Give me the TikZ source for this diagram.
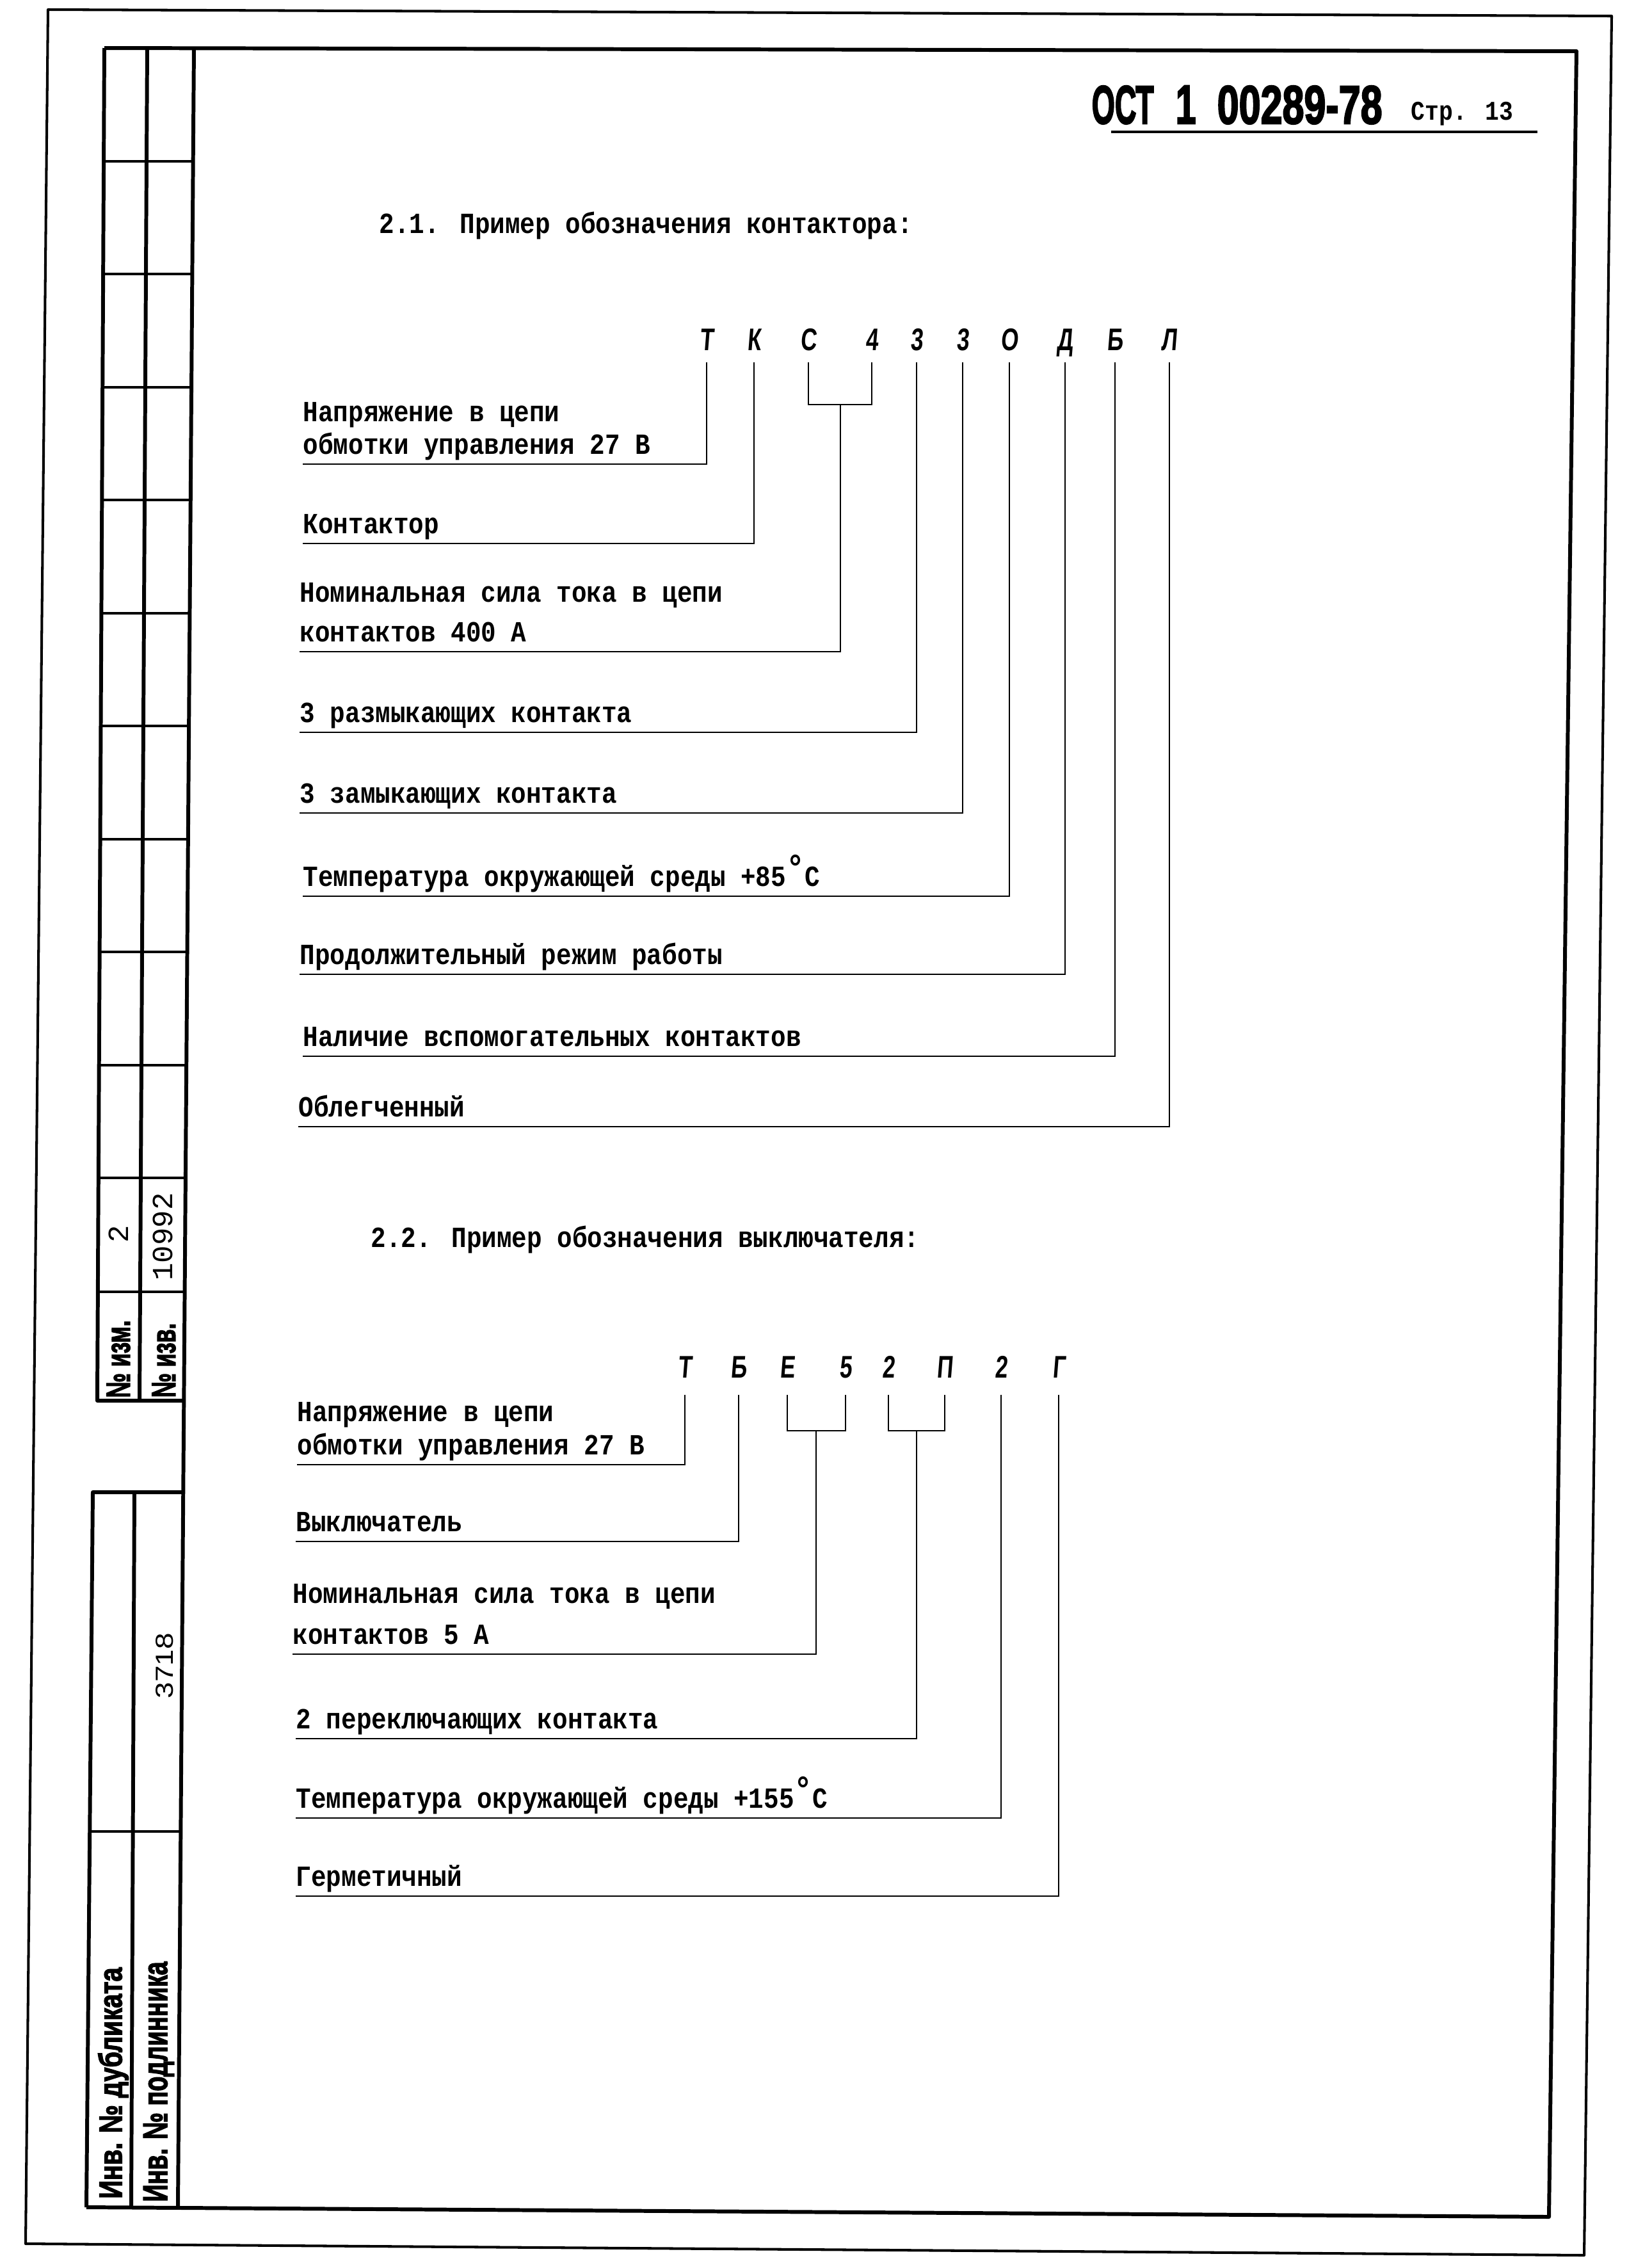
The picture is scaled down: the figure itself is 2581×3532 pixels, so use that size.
\documentclass[tikz,border=0pt]{standalone}
\usepackage{fontspec}
\usepackage{graphicx}
\setmainfont{Liberation Mono}
\newfontfamily\mashinfont[FakeStretch=0.86]{Liberation Mono}
\newfontfamily\stripmono{Liberation Mono}
\newfontfamily\gostfont[UprightFont={* Bold},FakeStretch=0.72,FakeSlant=0.08]{Liberation Sans}
\newfontfamily\headfont{Liberation Sans}
\newfontfamily\stripfont[UprightFont={* Bold},FakeBold=3]{Liberation Sans}
\usetikzlibrary{positioning}
\newcommand{\fitbox}[3]{\resizebox{#1}{#2}{#3}}
\newcommand{\mashin}{\mashinfont\bfseries\fontsize{13pt}{15pt}\selectfont}
\newcommand{\grad}{\raisebox{0.22em}{\fontsize{16pt}{16pt}\selectfont °}}
\tikzset{
  ramka/.style={line width=1.7pt, line join=round},
  ramkat/.style={line width=1.15pt, line join=round},
  setka/.style={line width=1.1pt},
  nadpis/.style={font=\mashin, inner sep=0pt, text depth=1.5mm, anchor=south west},
  stroka/.style={font=\mashin, inner sep=0pt, anchor=base west},
  bukva/.style={font={\gostfont\fontsize{13.9pt}{16pt}\selectfont}, inner xsep=0pt,
    inner ysep=1.8mm, text depth=0pt, anchor=base},
  bukvab/.style={bukva, inner ysep=2.6mm},
  vynoska/.style={line width=0.8pt},
  bokov/.style={rotate=90, inner sep=0pt}
}
\begin{document}
\begin{tikzpicture}[x=0.1mm, y=-0.1mm]
  \useasboundingbox (0,0) rectangle (2581,3532);
  \draw[ramkat] (75,15) -- (2518,25) -- (2475,3523) -- (40,3505) -- cycle;
  \draw[ramka] (163,75) -- (2463,80) -- (2420,3463) -- (135,3448);
  \draw[ramka] (303,75) -- (278,3448);
  \draw[ramka] (163,75) -- (152,2188) -- (287,2188);
  \draw[ramka] (230,75) -- (218,2188);
  \draw[setka] (162,252) -- (302,252);
  \draw[setka] (161,428) -- (300,428);
  \draw[setka] (160,605) -- (299,605);
  \draw[setka] (159,781) -- (298,781);
  \draw[setka] (158,958) -- (297,958);
  \draw[setka] (157,1134) -- (295,1134);
  \draw[setka] (157,1311) -- (294,1311);
  \draw[setka] (156,1487) -- (293,1487);
  \draw[setka] (155,1664) -- (291,1664);
  \draw[setka] (154,1840) -- (290,1840);
  \draw[setka] (153,2018) -- (289,2018);
  \draw[ramka] (286,2331) -- (145,2331) -- (135,3448);
  \draw[ramka] (210,2331) -- (205,3448);
  \draw[setka] (140,2861) -- (282,2861);

  \node[bokov, font=\stripmono\fontsize{13pt}{13pt}\selectfont] (izm) at (185,1928) {2};
  \node[bokov, font=\stripmono\fontsize{13pt}{13pt}\selectfont] (izv) at (254,1932) {10992};
  \node[bokov] (nizm) at (185,2123) {\stripfont\fitbox{12.1mm}{3.6mm}{№ изм.}};
  \node[bokov] (nizv) at (256,2125) {\stripfont\fitbox{11.6mm}{3.6mm}{№ изв.}};
  \node[bokov] (podl) at (257,2602) {\headfont\fitbox{10.2mm}{2.7mm}{3718}};
  \node[bokov] (dubl) at (177,3254) {\stripfont\fitbox{36.1mm}{3.7mm}{Инв. № дубликата}};
  \node[bokov] (podn) at (248,3252) {\stripfont\fitbox{37.5mm}{3.7mm}{Инв. № подлинника}};

  \node[anchor=base west, inner sep=0pt] (ost) at (1705,193)
    {\stripfont\fitbox{9.7mm}{5.9mm}{ОСТ}\hspace{3.4mm}\fitbox{3.2mm}{5.9mm}{1}\hspace{3.3mm}\fitbox{25.8mm}{5.9mm}{00289-78}};
  \node[anchor=base west, inner sep=0pt, font=\mashin\fontsize{12pt}{14pt}\selectfont] (str) at (2204,187) {Стр. 13};
  \draw[line width=1.3pt] (1736,206) -- (2402,206);

  \node[stroka] (zag1) at (592,364) {2.1. Пример обозначения контактора:};
  \node[bukva] (aT) at (1104,547) {Т};
  \node[bukva] (aK) at (1178,547) {К};
  \node[bukva] (aC) at (1263,547) {С};
  \node[bukva] (a4) at (1362,547) {4};
  \node[bukva] (a3r) at (1432,547) {3};
  \node[bukva] (a3z) at (1504,547) {3};
  \node[bukva] (aO) at (1577,547) {О};
  \node[bukva] (aD) at (1664,547) {Д};
  \node[bukva] (aB) at (1742,547) {Б};
  \node[bukva] (aL) at (1827,547) {Л};
  \node[stroka] (n1a) at (473,658) {Напряжение в цепи};
  \node[nadpis] (n1) at (473,725) {обмотки управления 27 В};
  \node[nadpis] (n2) at (473,849) {Контактор};
  \node[stroka] (n3a) at (468,940) {Номинальная сила тока в цепи};
  \node[nadpis] (n3) at (468,1018) {контактов 400 А};
  \node[nadpis] (n4) at (468,1144) {3 размыкающих контакта};
  \node[nadpis] (n5) at (468,1270) {3 замыкающих контакта};
  \node[nadpis] (n6) at (473,1400) {Температура окружающей среды +85\grad C};
  \node[nadpis] (n7) at (468,1522) {Продолжительный режим работы};
  \node[nadpis] (n8) at (473,1650) {Наличие вспомогательных контактов};
  \node[nadpis] (n9) at (466,1760) {Облегченный};
  \coordinate (skA) at (1313,632);
  \draw[vynoska] (aT.south) |- (n1.south west);
  \draw[vynoska] (aK.south) |- (n2.south west);
  \draw[vynoska] (aC.south) |- (skA) -| (a4.south);
  \draw[vynoska] (skA) |- (n3.south west);
  \draw[vynoska] (a3r.south) |- (n4.south west);
  \draw[vynoska] (a3z.south) |- (n5.south west);
  \draw[vynoska] (aO.south) |- (n6.south west);
  \draw[vynoska] (aD.south) |- (n7.south west);
  \draw[vynoska] (aB.south) |- (n8.south west);
  \draw[vynoska] (aL.south) |- (n9.south west);

  \node[stroka] (zag2) at (579,1948) {2.2. Пример обозначения выключателя:};
  \node[bukvab] (bT) at (1070,2152) {Т};
  \node[bukvab] (bB) at (1154,2152) {Б};
  \node[bukvab] (bE) at (1230,2152) {Е};
  \node[bukvab] (b5) at (1321,2152) {5};
  \node[bukvab] (b2p) at (1388,2152) {2};
  \node[bukvab] (bP) at (1476,2152) {П};
  \node[bukvab] (b2t) at (1564,2152) {2};
  \node[bukvab] (bG) at (1654,2152) {Г};
  \node[stroka] (m1a) at (464,2220) {Напряжение в цепи};
  \node[nadpis] (m1) at (464,2288) {обмотки управления 27 В};
  \node[nadpis] (m2) at (462,2408) {Выключатель};
  \node[stroka] (m3a) at (457,2504) {Номинальная сила тока в цепи};
  \node[nadpis] (m3) at (457,2584) {контактов 5 А};
  \node[nadpis] (m4) at (462,2716) {2 переключающих контакта};
  \node[nadpis] (m5) at (462,2840) {Температура окружающей среды +155\grad C};
  \node[nadpis] (m6) at (462,2962) {Герметичный};
  \coordinate (skB) at (1275,2235);
  \coordinate (skC) at (1432,2235);
  \draw[vynoska] (bT.south) |- (m1.south west);
  \draw[vynoska] (bB.south) |- (m2.south west);
  \draw[vynoska] (bE.south) |- (skB) -| (b5.south);
  \draw[vynoska] (skB) |- (m3.south west);
  \draw[vynoska] (b2p.south) |- (skC) -| (bP.south);
  \draw[vynoska] (skC) |- (m4.south west);
  \draw[vynoska] (b2t.south) |- (m5.south west);
  \draw[vynoska] (bG.south) |- (m6.south west);
\end{tikzpicture}
\end{document}
